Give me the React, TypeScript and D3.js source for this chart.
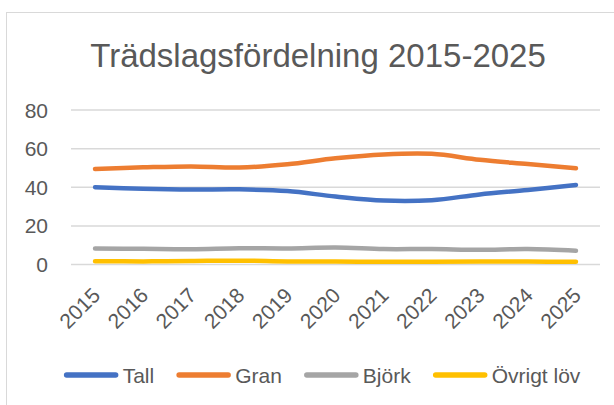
import { useEffect, useRef } from "react";
import * as d3 from "d3";

const years = ["2015", "2016", "2017", "2018", "2019", "2020", "2021", "2022", "2023", "2024", "2025"];
const tall = [40, 39.2, 38.8, 38.9, 38, 35.2, 33.1, 33.3, 36.3, 38.6, 41.2];
const gran = [49.5, 50.3, 50.8, 50.2, 51.9, 55, 57, 57.3, 54.2, 52, 49.8];
const bjork = [8.3, 8.1, 7.9, 8.4, 8.3, 8.8, 8.0, 8.0, 7.6, 8.0, 7.1];
const ovrigt = [1.7, 1.6, 1.8, 2.0, 1.6, 1.5, 1.4, 1.4, 1.5, 1.5, 1.4];
const yTicks = [0, 20, 40, 60, 80];
const title = "Trädslagsfördelning 2015-2025";

const series = [
  { name: "Tall", values: tall, color: "#4472C4" },
  { name: "Gran", values: gran, color: "#ED7D31" },
  { name: "Björk", values: bjork, color: "#A5A5A5" },
  { name: "Övrigt löv", values: ovrigt, color: "#FFC000" },
];

const W = 614;
const H = 405;
const margin = { top: 110, right: 14, bottom: 140.5, left: 71 };
const font = "'Liberation Sans', Arial, sans-serif";
const textColor = "#595959";

export default function App() {
  const ref = useRef<SVGSVGElement>(null);

  useEffect(() => {
    const svg = d3.select(ref.current);
    svg.selectAll("*").remove();

    const innerW = W - margin.left - margin.right;
    const innerH = H - margin.top - margin.bottom;

    const x = d3.scalePoint().domain(years).range([0, innerW]).padding(0.5);
    const y = d3.scaleLinear().domain([0, 80]).range([innerH, 0]);

    // chart area border (cropped on the right and bottom)
    svg
      .append("rect")
      .attr("x", 6.5)
      .attr("y", 12.5)
      .attr("width", 800)
      .attr("height", 600)
      .attr("fill", "white")
      .attr("stroke", "#D9D9D9")
      .attr("stroke-width", 1);

    svg
      .append("text")
      .attr("x", 318)
      .attr("y", 66.5)
      .attr("text-anchor", "middle")
      .attr("font-family", font)
      .attr("font-size", 33)
      .attr("fill", textColor)
      .text(title);

    const g = svg.append("g").attr("transform", `translate(${margin.left},${margin.top})`);

    g.selectAll(".grid")
      .data(yTicks)
      .join("line")
      .attr("x1", 0)
      .attr("x2", innerW)
      .attr("y1", (d) => y(d))
      .attr("y2", (d) => y(d))
      .attr("stroke", "#D9D9D9")
      .attr("stroke-width", 1.5);

    g.selectAll(".ylab")
      .data(yTicks)
      .join("text")
      .attr("x", -23)
      .attr("y", (d) => y(d))
      .attr("dy", "0.36em")
      .attr("text-anchor", "end")
      .attr("font-family", font)
      .attr("font-size", 21)
      .attr("fill", textColor)
      .text((d) => d);

    g.selectAll(".xlab")
      .data(years)
      .join("text")
      .attr("transform", (d) => `translate(${x(d)! + 1},${innerH + 27}) rotate(-45)`)
      .attr("dy", "0.36em")
      .attr("text-anchor", "end")
      .attr("font-family", font)
      .attr("font-size", 21)
      .attr("fill", textColor)
      .text((d) => d);

    const line = d3
      .line<number>()
      .x((_, i) => x(years[i])!)
      .y((d) => y(d))
      .curve(d3.curveCatmullRom.alpha(0.5));

    g.selectAll(".series")
      .data(series.slice().reverse())
      .join("path")
      .attr("d", (s) => line(s.values))
      .attr("fill", "none")
      .attr("stroke", (s) => s.color)
      .attr("stroke-width", 4.5)
      .attr("stroke-linecap", "round")
      .attr("stroke-linejoin", "round");

    // legend
    const legend = svg.append("g");
    const items = legend
      .selectAll("g")
      .data(series)
      .join("g");
    items
      .append("line")
      .attr("x1", 3)
      .attr("x2", 52)
      .attr("stroke", (s) => s.color)
      .attr("stroke-width", 5.5)
      .attr("stroke-linecap", "round");
    items
      .append("text")
      .attr("x", 59)
      .attr("dy", "0.36em")
      .attr("font-family", font)
      .attr("font-size", 21)
      .attr("fill", textColor)
      .text((s) => s.name);

    let cx = 0;
    const widths: number[] = [];
    items.each(function () {
      const t = d3.select(this).select("text").node() as SVGTextElement;
      widths.push(59 + t.getComputedTextLength());
    });
    const gap = 22;
    const total = d3.sum(widths) + gap * (widths.length - 1);
    const start = 322 - total / 2;
    items.attr("transform", (_, i) => {
      const tx = start + cx;
      cx += widths[i] + gap;
      return `translate(${tx},375)`;
    });
  }, []);

  return (
    <svg
      ref={ref}
      width={W}
      height={H}
      style={{ position: "absolute", left: 0, top: 0, background: "white" }}
    />
  );
}
